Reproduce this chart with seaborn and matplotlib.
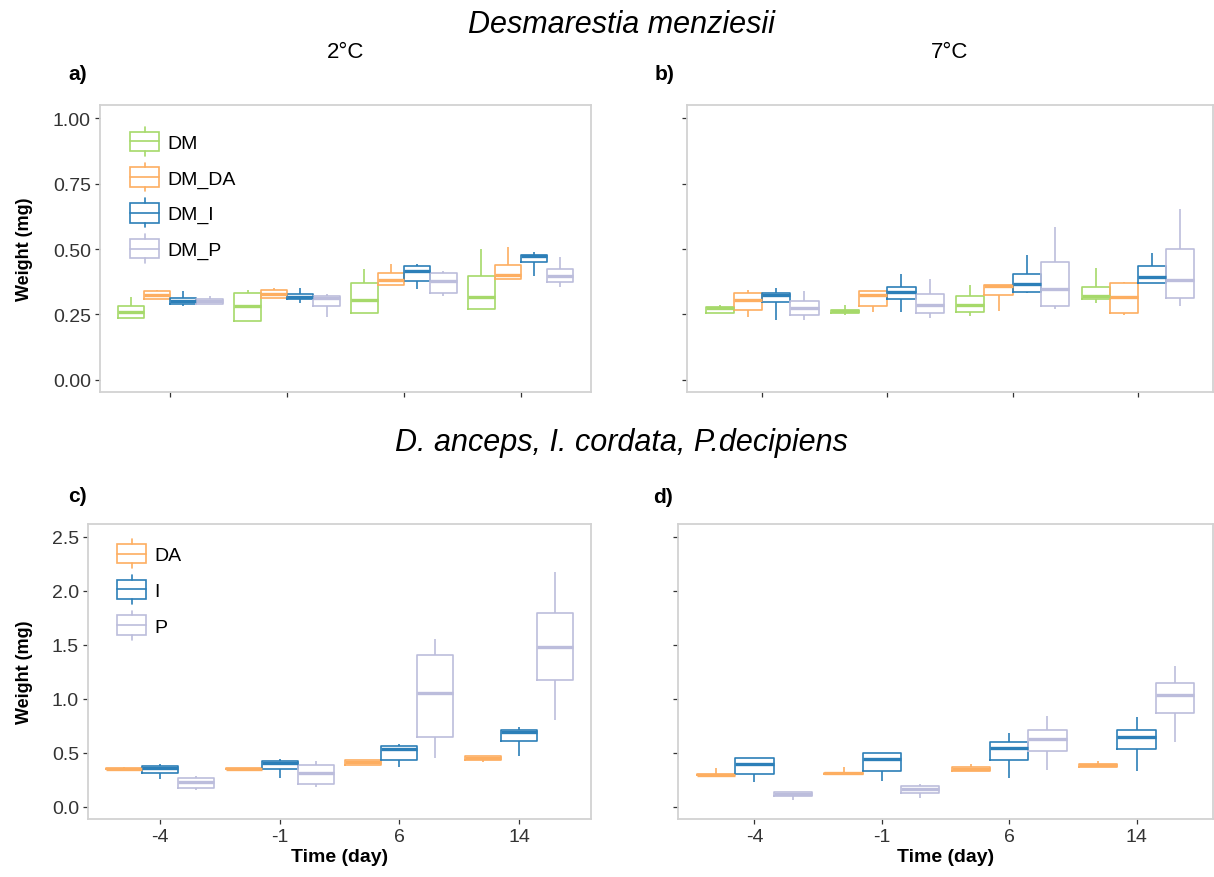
import matplotlib
matplotlib.use("Agg")
import matplotlib.pyplot as plt
import numpy as np
import pandas as pd
import seaborn as sns
from matplotlib.legend_handler import HandlerBase
from matplotlib.patches import Rectangle, Patch
from matplotlib.lines import Line2D

# ---------------------------------------------------------------------------
# Data: each box is given as [lower whisker, Q1, median, Q3, upper whisker]
# ---------------------------------------------------------------------------
times = ["-4", "-1", "6", "14"]
dm_groups = ["DM", "DM_DA", "DM_I", "DM_P"]
sp_groups = ["DA", "I", "P"]

# Desmarestia menziesii, 2 °C
dm2_DM = [[0.237, 0.237, 0.258, 0.284, 0.316], [0.225, 0.225, 0.281, 0.333, 0.343],
          [0.254, 0.254, 0.305, 0.369, 0.424], [0.272, 0.272, 0.317, 0.398, 0.500]]
dm2_DM_DA = [[0.309, 0.309, 0.324, 0.339, 0.345], [0.313, 0.313, 0.330, 0.345, 0.350],
             [0.361, 0.361, 0.382, 0.410, 0.441], [0.385, 0.385, 0.402, 0.440, 0.506]]
dm2_DM_I = [[0.284, 0.291, 0.302, 0.314, 0.340], [0.294, 0.308, 0.317, 0.327, 0.351],
            [0.347, 0.379, 0.417, 0.434, 0.441], [0.396, 0.452, 0.472, 0.476, 0.487]]
dm2_DM_P = [[0.291, 0.291, 0.300, 0.309, 0.322], [0.240, 0.284, 0.312, 0.321, 0.327],
            [0.322, 0.331, 0.378, 0.410, 0.416], [0.354, 0.373, 0.396, 0.423, 0.471]]

# Desmarestia menziesii, 7 °C
dm7_DM = [[0.254, 0.254, 0.274, 0.279, 0.285], [0.248, 0.254, 0.262, 0.268, 0.285],
          [0.243, 0.261, 0.288, 0.321, 0.364], [0.295, 0.308, 0.322, 0.356, 0.429]]
dm7_DM_DA = [[0.242, 0.266, 0.307, 0.333, 0.345], [0.261, 0.284, 0.324, 0.339, 0.340],
             [0.265, 0.326, 0.358, 0.363, 0.363], [0.248, 0.254, 0.317, 0.369, 0.375]]
dm7_DM_I = [[0.229, 0.297, 0.326, 0.333, 0.351], [0.261, 0.308, 0.336, 0.356, 0.406],
            [0.331, 0.337, 0.365, 0.405, 0.478], [0.369, 0.369, 0.394, 0.435, 0.484]]
dm7_DM_P = [[0.229, 0.248, 0.275, 0.303, 0.340], [0.237, 0.254, 0.288, 0.327, 0.387],
            [0.271, 0.284, 0.346, 0.452, 0.585], [0.282, 0.313, 0.382, 0.500, 0.651]]

# D. anceps, I. cordata, P. decipiens, 2 °C
sp2_DA = [[0.348, 0.348, 0.352, 0.356, 0.372], [0.348, 0.350, 0.353, 0.356, 0.360],
          [0.386, 0.386, 0.411, 0.435, 0.435], [0.414, 0.430, 0.448, 0.466, 0.466]]
sp2_I = [[0.256, 0.315, 0.361, 0.377, 0.392], [0.269, 0.346, 0.402, 0.420, 0.442],
         [0.367, 0.432, 0.534, 0.565, 0.583], [0.469, 0.605, 0.689, 0.710, 0.741]]
sp2_P = [[0.155, 0.173, 0.226, 0.263, 0.281], [0.182, 0.213, 0.312, 0.389, 0.420],
         [0.454, 0.648, 1.050, 1.405, 1.553], [0.803, 1.170, 1.481, 1.790, 2.176]]

# D. anceps, I. cordata, P. decipiens, 7 °C
sp7_DA = [[0.290, 0.290, 0.295, 0.300, 0.355], [0.306, 0.306, 0.311, 0.316, 0.367],
          [0.328, 0.328, 0.349, 0.365, 0.392], [0.368, 0.368, 0.383, 0.395, 0.423]]
sp7_I = [[0.226, 0.300, 0.398, 0.451, 0.451], [0.238, 0.328, 0.444, 0.494, 0.494],
         [0.269, 0.432, 0.543, 0.596, 0.685], [0.328, 0.534, 0.642, 0.710, 0.828]]
sp7_P = [[0.065, 0.099, 0.118, 0.133, 0.133], [0.080, 0.127, 0.164, 0.192, 0.207],
         [0.343, 0.519, 0.630, 0.710, 0.843], [0.602, 0.867, 1.034, 1.145, 1.306]]

dm_colors = ["#a6d96a", "#fdae61", "#2c7fb8", "#bcbddc"]
sp_colors = ["#fdae61", "#2c7fb8", "#bcbddc"]


def long_frame(groups, series):
    rows = []
    for g, boxes in zip(groups, series):
        for t, vals in zip(times, boxes):
            for v in vals:
                rows.append({"time": t, "group": g, "weight": v})
    return pd.DataFrame(rows)


df_a = long_frame(dm_groups, [dm2_DM, dm2_DM_DA, dm2_DM_I, dm2_DM_P])
df_b = long_frame(dm_groups, [dm7_DM, dm7_DM_DA, dm7_DM_I, dm7_DM_P])
df_c = long_frame(sp_groups, [sp2_DA, sp2_I, sp2_P])
df_d = long_frame(sp_groups, [sp7_DA, sp7_I, sp7_P])

# ---------------------------------------------------------------------------
sns.set_theme(style="white")
plt.rcParams["font.family"] = ["Liberation Sans", "DejaVu Sans"]
plt.rcParams["text.color"] = "black"
plt.rcParams["axes.labelcolor"] = "black"

W, H = 1214, 878
fig = plt.figure(figsize=(W / 100, H / 100), dpi=100)


def box(left, right, top, bottom):
    return [left / W, 1 - bottom / H, (right - left) / W, (bottom - top) / H]


ax_a = fig.add_axes(box(100, 591, 106, 393))
ax_b = fig.add_axes(box(687, 1213, 106, 393))
ax_c = fig.add_axes(box(88, 591, 525, 820))
ax_d = fig.add_axes(box(678, 1213, 525, 820))

TICK_COLOR = "#333333"
FRAME_COLOR = "#d2d2d2"


def draw(ax, df, groups, colors, ylim, yticks, yfmt, xlabels, ylabels):
    sns.boxplot(data=df, x="time", y="weight", hue="group", order=times,
                hue_order=groups, palette=colors, fill=False, width=0.9, gap=0,
                whis=(0, 100), linewidth=1.2, medianprops=dict(linewidth=2.4),
                showcaps=False, legend=False, ax=ax)
    ax.set_xlim(-0.6, 3.6)
    ax.set_ylim(*ylim)
    ax.set_yticks(yticks)
    if ylabels:
        ax.set_yticklabels([yfmt.format(v) for v in yticks])
    else:
        ax.set_yticklabels([])
    ax.set_xticks(range(len(times)))
    if xlabels:
        ax.set_xticklabels(times)
    else:
        ax.set_xticklabels([])
    ax.set_xlabel("")
    ax.set_ylabel("")
    for s in ax.spines.values():
        s.set_color(FRAME_COLOR)
        s.set_linewidth(1.3)
    ax.tick_params(axis="both", which="major", length=3.5, width=0.9,
                   color=TICK_COLOR, labelcolor=TICK_COLOR, labelsize=14,
                   direction="out", pad=3, bottom=True, left=True)
    ax.grid(False)


draw(ax_a, df_a, dm_groups, dm_colors, (-0.046, 1.05),
     [0, 0.25, 0.5, 0.75, 1.0], "{:.2f}", False, True)
draw(ax_b, df_b, dm_groups, dm_colors, (-0.046, 1.05),
     [0, 0.25, 0.5, 0.75, 1.0], "{:.2f}", False, False)
draw(ax_c, df_c, sp_groups, sp_colors, (-0.114, 2.618),
     [0, 0.5, 1.0, 1.5, 2.0, 2.5], "{:.1f}", True, True)
draw(ax_d, df_d, sp_groups, sp_colors, (-0.114, 2.618),
     [0, 0.5, 1.0, 1.5, 2.0, 2.5], "{:.1f}", True, False)

# Axis titles
for ax, xpos in ((ax_a, -0.136), (ax_c, -0.109)):
    ax.set_ylabel("Weight (mg)", fontsize=13, fontweight="bold", color="black")
    ax.yaxis.set_label_coords(xpos, 0.5)
for ax in (ax_c, ax_d):
    ax.set_xlabel("Time (day)", fontsize=14, fontweight="bold", color="black")
    ax.xaxis.set_label_coords(0.5, -0.1)


# Legend glyph in the style of a box plot (sizes in points)
class BoxGlyph(HandlerBase):
    def create_artists(self, legend, orig_handle, xdescent, ydescent,
                       width, height, fontsize, trans):
        c = orig_handle.get_edgecolor()
        x0 = -xdescent
        yc = -ydescent + height / 2
        bh = 7.0
        wh = 10.4
        xm = x0 + width / 2
        lw = 1.2
        rect = Rectangle((x0, yc - bh), width, 2 * bh, fill=False,
                         edgecolor=c, lw=lw, transform=trans)
        med = Line2D([x0, x0 + width], [yc, yc], color=c, lw=lw, transform=trans)
        top = Line2D([xm, xm], [yc + bh, yc + wh], color=c, lw=lw, transform=trans)
        bot = Line2D([xm, xm], [yc - bh, yc - wh], color=c, lw=lw, transform=trans)
        return [rect, med, top, bot]


def add_legend(ax, groups, colors, anchor):
    handles = [Patch(facecolor="none", edgecolor=c, label=g)
               for g, c in zip(groups, colors)]
    ax.legend(handles=handles, loc="upper left", bbox_to_anchor=anchor,
              frameon=False, fontsize=14, handlelength=1.5, handleheight=1.5,
              handletextpad=0.4, labelspacing=0.62, borderpad=0,
              borderaxespad=0, handler_map={Patch: BoxGlyph()})


add_legend(ax_a, dm_groups, dm_colors, (0.061, 0.915))
add_legend(ax_c, sp_groups, sp_colors, (0.058, 0.94))

# Headings
fig.text(621 / W, 1 - 25 / H, "Desmarestia menziesii", ha="center", va="center",
         fontsize=22, style="italic")
fig.text(621 / W, 1 - 443 / H, "D. anceps, I. cordata, P.decipiens", ha="center",
         va="center", fontsize=22, style="italic")
fig.text(345.5 / W, 1 - 53 / H, "2°C", ha="center", va="center", fontsize=16)
fig.text(950 / W, 1 - 53 / H, "7°C", ha="center", va="center", fontsize=16)
for lab, x, y in (("a)", 68, 75), ("b)", 655, 75), ("c)", 68, 497), ("d)", 653, 498)):
    fig.text(x / W, 1 - y / H, lab, ha="left", va="center", fontsize=15,
             fontweight="bold")

fig.savefig("out.png", dpi=100, facecolor="white")
